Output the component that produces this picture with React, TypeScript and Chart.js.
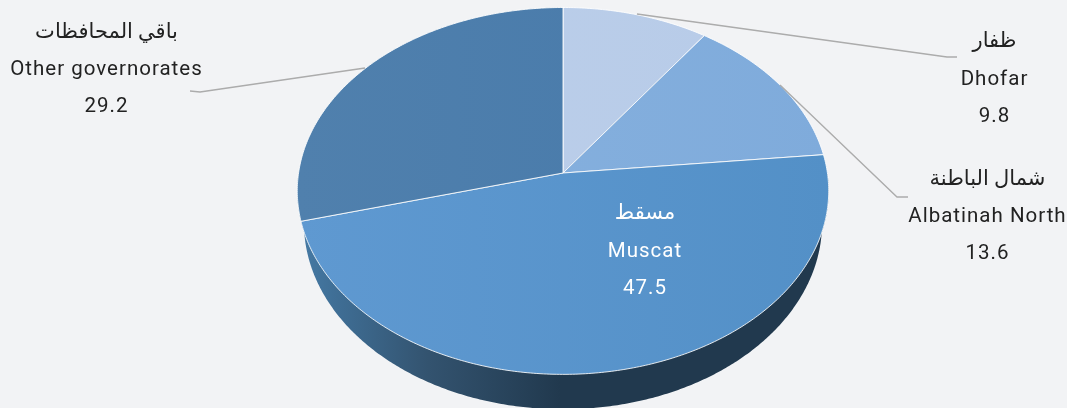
import React, { useEffect, useRef } from "react";
import { Chart, registerables } from "chart.js";

Chart.register(...registerables);

const categories = ["Dhofar", "Albatinah North", "Muscat", "Other governorates"];
const arabicNames = ["ظفار", "شمال الباطنة", "مسقط", "باقي المحافظات"];
const values = [9.8, 13.6, 47.5, 29.2];
const sliceColorsFrom = ["#bccfea", "#88b2df", "#5f99d1", "#5080ad"];
const sliceColorsTo = ["#b7cbe8", "#7fabdb", "#5390c7", "#4679aa"];

const WIDTH = 1067;
const HEIGHT = 408;
const BG = "#f2f3f5";
const FONT = "Roboto, 'DejaVu Sans', sans-serif";

// Perspective of the tilted pie (relative to the chart's own radius)
const SX = 1.533;
const SY = 1.0532;
const K = -0.0978;
const DEPTH = 32;
const BASE_SX = 0.975;
const BASE_SY = 1.016;

type Pt = [number, number];

const labelLayout = [
  { cx: 994.5, ys: [42, 80, 117], color: "#222", line: [[637, 14], [947, 57], [957, 57]] },
  { cx: 987.5, ys: [180, 217, 254], color: "#222", line: [[780, 85], [897, 197], [908, 197]] },
  { cx: 645, ys: [214, 252, 289], color: "#fff", line: null },
  { cx: 106.5, ys: [33, 70, 107], color: "#222", line: [[190, 91], [200, 92], [365, 68]] },
];

const tiltedPie = {
  id: "tiltedPie",
  beforeDatasetDraw(chart: any) {
    const ctx: CanvasRenderingContext2D = chart.ctx;
    const arcs = chart.getDatasetMeta(0).data as any[];
    const { x: cx, y: cy, outerRadius: r } = arcs[0];
    const project = (a: number): Pt => {
      const u = Math.cos(a);
      const v = Math.sin(a);
      const w = 1 + K * v;
      return [cx + (SX * r * u) / w, cy + (SY * r * v) / w];
    };
    const midY = (project(-Math.PI / 2)[1] + project(Math.PI / 2)[1]) / 2;
    const toBase = ([x, y]: Pt): Pt => [
      cx + (x - cx) * BASE_SX,
      midY + DEPTH + (y - midY) * BASE_SY,
    ];

    // Side wall
    const rim: Pt[] = [];
    for (let i = 0; i <= 720; i++) rim.push(project((i / 720) * Math.PI * 2));
    const side = ctx.createLinearGradient(297, 0, 560, 0);
    side.addColorStop(0, "#477ba6");
    side.addColorStop(0.15, "#3f6e95");
    side.addColorStop(0.5, "#33536f");
    side.addColorStop(1, "#21394e");
    ctx.save();
    ctx.fillStyle = side;
    ctx.beginPath();
    rim.forEach((p, i) => {
      const [x, y] = toBase(p);
      if (i) ctx.lineTo(x, y);
      else ctx.moveTo(x, y);
    });
    ctx.closePath();
    for (let i = 0; i < rim.length - 1; i++) {
      const [x0, y0] = rim[i];
      const [x1, y1] = rim[i + 1];
      if (y1 + y0 < 2 * cy) continue;
      const [bx0, by0] = toBase(rim[i]);
      const [bx1, by1] = toBase(rim[i + 1]);
      ctx.moveTo(x0, y0);
      ctx.lineTo(bx0, by0);
      ctx.lineTo(bx1, by1);
      ctx.lineTo(x1, y1);
      ctx.closePath();
    }
    ctx.fill("nonzero");

    // Slices
    arcs.forEach((arc, index) => {
      const { startAngle, endAngle } = arc;
      ctx.beginPath();
      ctx.moveTo(cx, cy);
      const steps = Math.ceil((endAngle - startAngle) * 90);
      for (let s = 0; s <= steps; s++) {
        const [x, y] = project(startAngle + ((endAngle - startAngle) * s) / steps);
        ctx.lineTo(x, y);
      }
      ctx.closePath();
      const g = ctx.createLinearGradient(297, 0, 830, 0);
      g.addColorStop(0, sliceColorsFrom[index]);
      g.addColorStop(1, sliceColorsTo[index]);
      ctx.fillStyle = g;
      ctx.fill();
      ctx.strokeStyle = "rgba(255,255,255,0.85)";
      ctx.lineWidth = 1;
      ctx.lineJoin = "round";
      ctx.stroke();
    });
    ctx.restore();
    return false;
  },
  afterDatasetsDraw(chart: any) {
    const ctx: any = chart.ctx;
    ctx.save();
    ctx.textAlign = "center";
    ctx.textBaseline = "middle";
    values.forEach((value, i) => {
      const layout = labelLayout[i];
      if (layout.line) {
        ctx.beginPath();
        layout.line.forEach(([x, y], j) => (j ? ctx.lineTo(x, y) : ctx.moveTo(x, y)));
        ctx.strokeStyle = "#acacac";
        ctx.lineWidth = 1.4;
        ctx.stroke();
      }
      ctx.fillStyle = layout.color;
      ctx.font = `21px ${FONT}`;
      ctx.letterSpacing = "0px";
      ctx.fillText(arabicNames[i], layout.cx, layout.ys[0]);
      ctx.font = `20.5px ${FONT}`;
      ctx.letterSpacing = "1px";
      ctx.fillText(categories[i], layout.cx, layout.ys[1]);
      ctx.fillText(value.toFixed(1), layout.cx, layout.ys[2]);
    });
    ctx.restore();
  },
};

export default function App() {
  const ref = useRef<HTMLCanvasElement>(null);
  useEffect(() => {
    document.body.style.margin = "0";
    document.body.style.background = BG;
    const chart = new Chart(ref.current as HTMLCanvasElement, {
      type: "pie",
      data: {
        labels: categories,
        datasets: [{ data: values, backgroundColor: sliceColorsTo, borderColor: "#fff", borderWidth: 1 }],
      },
      options: {
        animation: false,
        responsive: false,
        layout: { padding: { left: 59, right: 0, top: 0, bottom: 62 } },
        plugins: { legend: { display: false }, tooltip: { enabled: false } },
      },
      plugins: [tiltedPie],
    });
    return () => chart.destroy();
  }, []);
  return (
    <canvas
      ref={ref}
      width={WIDTH}
      height={HEIGHT}
      style={{ display: "block", width: WIDTH, height: HEIGHT, background: BG }}
    />
  );
}
